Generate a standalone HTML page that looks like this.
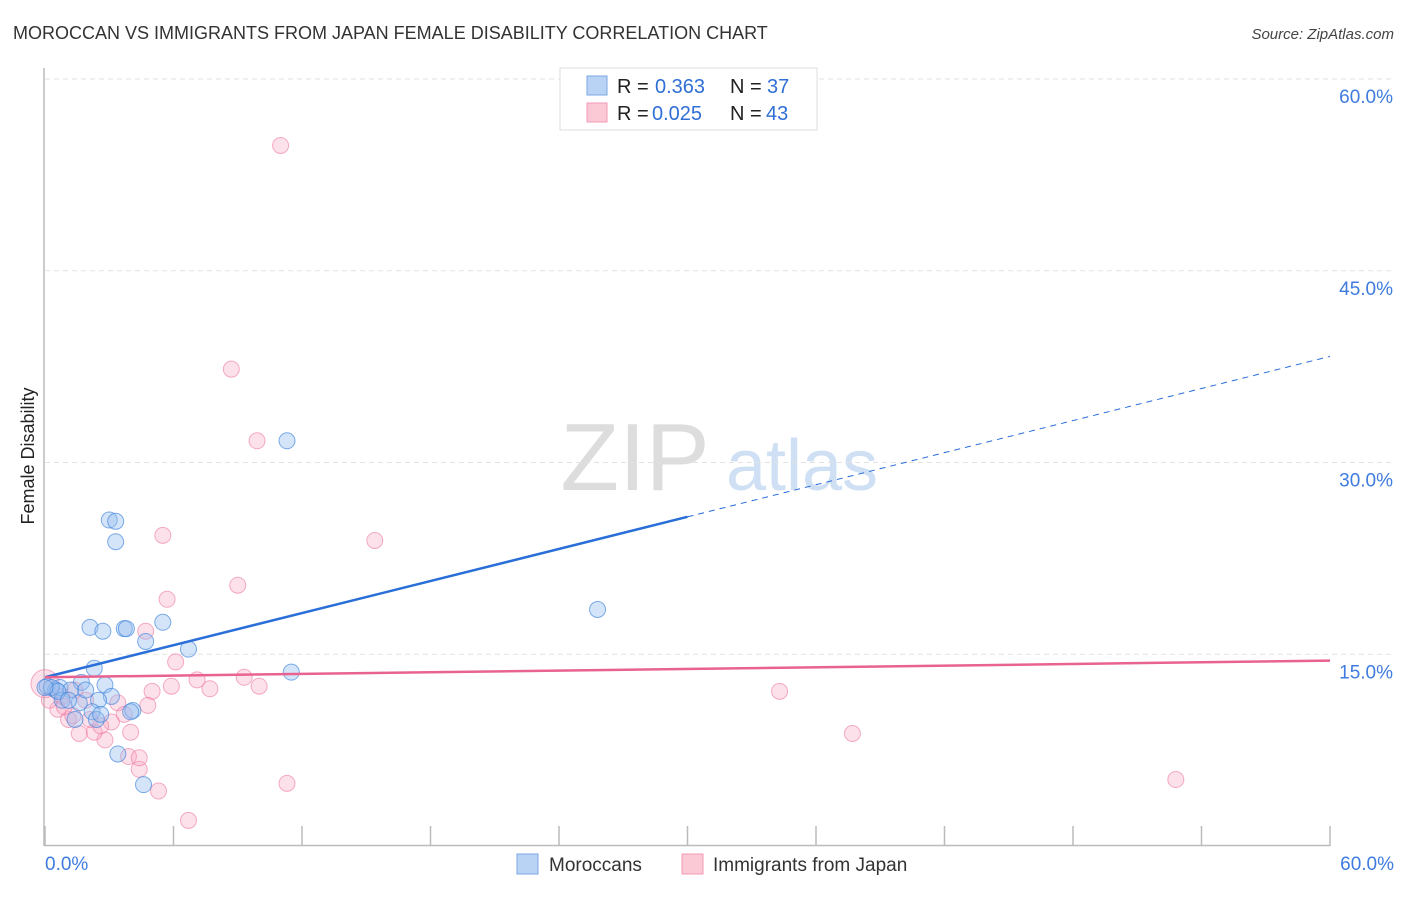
<!DOCTYPE html>
<html><head><meta charset="utf-8"><style>
body{margin:0;background:#fff;font-family:"Liberation Sans",sans-serif;}
svg text{font-family:"Liberation Sans",sans-serif;}
</style></head><body>
<svg id="chart" width="1406" height="892" xmlns="http://www.w3.org/2000/svg">
<text x="13" y="39" font-size="18" fill="#333">MOROCCAN VS IMMIGRANTS FROM JAPAN FEMALE DISABILITY CORRELATION CHART</text>
<text x="1394" y="39" font-size="15" fill="#444" text-anchor="end" font-style="italic">Source: ZipAtlas.com</text>
<text transform="translate(34,456) rotate(-90)" font-size="18" fill="#222" text-anchor="middle">Female Disability</text>
<g>
<text x="635" y="490" font-size="96" fill="#ddd" text-anchor="middle" font-family="Liberation Serif">ZIP</text>
<text x="802" y="490" font-size="72" fill="#cfe0f5" text-anchor="middle">atlas</text>
</g>
<g id="grid"></g><g id="axes"></g><g id="marks"></g>
<g>
<rect x="560" y="68" width="257" height="62" fill="#fff" stroke="#ddd"/>
<rect x="587" y="76" width="20" height="19" fill="#b9d3f5" stroke="#7aa7e6"/>
<rect x="587" y="103" width="20" height="19" fill="#fbc8d6" stroke="#f09ab4"/>
<text x="617" y="93" font-size="20" fill="#222">R =</text>
<text x="655" y="93" font-size="20" fill="#2f6fd6">0.363</text>
<text x="730" y="93" font-size="20" fill="#222">N =</text>
<text x="767" y="93" font-size="20" fill="#2f6fd6">37</text>
<text x="617" y="120" font-size="20" fill="#222">R =</text>
<text x="652" y="120" font-size="20" fill="#2f6fd6">0.025</text>
<text x="730" y="120" font-size="20" fill="#222">N =</text>
<text x="766" y="120" font-size="20" fill="#2f6fd6">43</text>
</g>
<g>
<rect x="517" y="854" width="21" height="20" fill="#b9d3f5" stroke="#7aa7e6"/>
<text x="549" y="871" font-size="19" fill="#333">Moroccans</text>
<rect x="682" y="854" width="21" height="20" fill="#fbc8d6" stroke="#f09ab4"/>
<text x="713" y="871" font-size="19" fill="#333">Immigrants from Japan</text>
</g>
</svg>
<script>
const yTicks=[15,30,45,60];
const yTickLabels=["15.0%","30.0%","45.0%","60.0%"];
const xTickVals=[0,6,12,18,24,30,36,42,48,54,60];
const moroccanX=[3.0,3.3,3.3,11.3,25.8,2.1,2.7,3.7,3.8,4.7,5.5,6.7,11.5,2.3,1.7,2.8,0.1,0.5,0.7,1.2,0.8,3.1,2.5,1.6,2.2,1.4,2.4,4.1,3.4,4.6,0.3,0.6,0.0,1.9,1.1,2.6,4.0];
const moroccanY=[25.5,25.4,23.8,31.7,18.5,17.1,16.8,17.0,17.0,16.0,17.5,15.4,13.6,13.9,12.8,12.6,12.5,12.2,12.4,12.2,11.4,11.7,11.4,11.2,10.5,9.9,9.9,10.6,7.2,4.8,12.4,12.1,12.4,12.2,11.4,10.3,10.5];
const japanX=[11.0,8.7,9.9,15.4,5.5,9.0,5.7,4.7,6.1,5.0,5.9,7.1,7.7,9.3,10.0,34.3,37.7,52.8,11.3,6.7,5.3,4.4,3.9,4.0,2.8,2.3,1.6,1.1,0.6,0.2,0.8,1.9,3.4,3.7,4.8,3.1,1.3,2.1,0.0,2.6,1.4,4.4,0.9];
const japanY=[54.8,37.3,31.7,23.9,24.3,20.4,19.3,16.8,14.4,12.1,12.5,13.0,12.3,13.2,12.5,12.1,8.8,5.2,4.9,2.0,4.3,6.0,7.0,8.9,8.3,8.9,8.8,9.9,10.7,11.4,11.7,11.4,11.2,10.3,11.0,9.7,10.2,9.9,12.7,9.4,12.2,6.9,10.9];
const moroccanTrend=[13.2,38.3];
const moroccanSolidEnd=30;
const japanTrend=[13.2,14.5];

const NS="http://www.w3.org/2000/svg";
const X0=45,X1=1330,Y0=846,Y60=79;
const xs=v=>X0+(X1-X0)*v/60;
const ys=v=>Y0-(Y0-Y60)*v/60;
function mk(tag,attrs,parent){const e=document.createElementNS(NS,tag);for(const k in attrs)e.setAttribute(k,attrs[k]);document.getElementById(parent).appendChild(e);return e;}

yTicks.forEach((t,i)=>{
  const l=mk('line',{x1:45,x2:1394,y1:ys(t),y2:ys(t),stroke:'#e2e2e2','stroke-dasharray':'5,4'},'grid');
  
  
  const tx=mk('text',{x:1393,y:ys(t)+24,'font-size':19,fill:'#3f7be0','text-anchor':'end'},'axes');
  tx.textContent=yTickLabels[i];
  
  
});
const ax=mk('line',{x1:44,x2:44,y1:68,y2:846,stroke:'#bbb','stroke-width':1.5},'axes');


const bx=mk('line',{x1:44,x2:1330,y1:845.5,y2:845.5,stroke:'#bbb','stroke-width':1.5},'axes');


xTickVals.forEach(t=>{
  const tk=mk('line',{x1:xs(t),x2:xs(t),y1:826,y2:846,stroke:'#bbb','stroke-width':1.5},'axes');
  
  
});
const xl=mk('text',{x:45,y:870,'font-size':19,fill:'#3f7be0'},'axes');xl.textContent='0.0%';


const xr=mk('text',{x:1394,y:870,'font-size':19,fill:'#3f7be0','text-anchor':'end'},'axes');xr.textContent='60.0%';



japanX.forEach((x,i)=>{
  const c=mk('circle',{cx:xs(x),cy:ys(japanY[i]),r:(i===38?14:8),fill:'rgba(248,170,195,0.35)',stroke:'rgba(236,120,160,0.6)','stroke-width':1},'marks');
  
  
});
moroccanX.forEach((x,i)=>{
  const c=mk('circle',{cx:xs(x),cy:ys(moroccanY[i]),r:8,fill:'rgba(150,190,240,0.4)',stroke:'rgba(60,130,220,0.65)','stroke-width':1},'marks');
  
  
});
const mAt=v=>moroccanTrend[0]+(moroccanTrend[1]-moroccanTrend[0])*v/60;
const l1=mk('line',{x1:xs(0),y1:ys(mAt(0)),x2:xs(moroccanSolidEnd),y2:ys(mAt(moroccanSolidEnd)),stroke:'#2a6fd8','stroke-width':2.5},'marks');


const l2=mk('line',{x1:xs(moroccanSolidEnd),y1:ys(mAt(moroccanSolidEnd)),x2:xs(60),y2:ys(mAt(60)),stroke:'#2a6fd8','stroke-width':1,'stroke-dasharray':'6,5'},'marks');


const l3=mk('line',{x1:xs(0),y1:ys(japanTrend[0]),x2:xs(60),y2:ys(japanTrend[1]),stroke:'#e8638f','stroke-width':2.5},'marks');


</script>
</body></html>
